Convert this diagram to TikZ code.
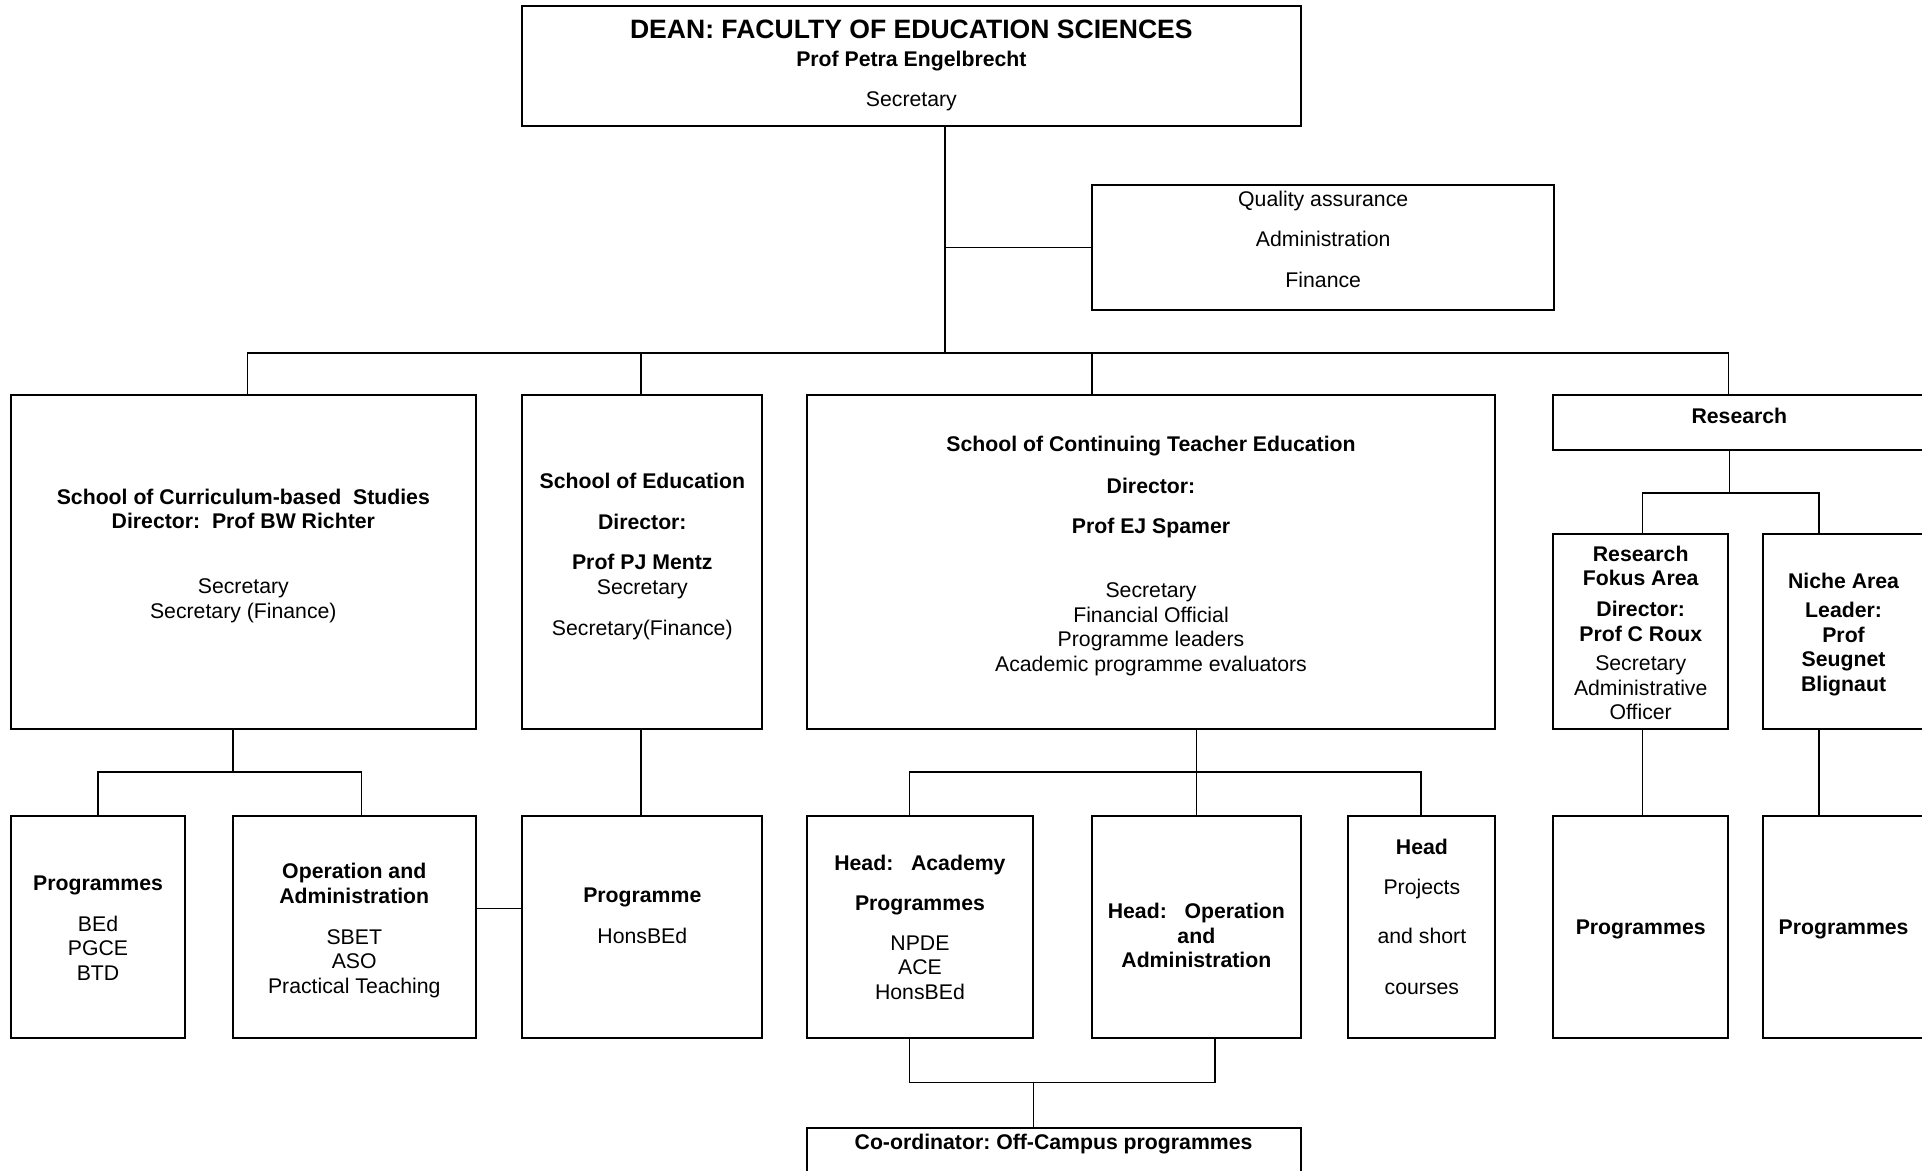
\documentclass[tikz,border=0pt]{standalone}
\usepackage{fontspec}
\setmainfont{Liberation Sans}
\usetikzlibrary{fit}

\tikzset{
  box/.style={draw, line width=1pt, inner sep=0pt},
  lbl/.style={align=center, inner sep=0pt},
  conn/.style={line width=0.8pt}
}

\begin{document}
\frenchspacing
\begin{tikzpicture}[x=0.6pt, y=-0.6pt, font=\fontsize{10.4}{12}\selectfont]
\useasboundingbox (0,0) rectangle (1568,955);

\node[box, fit={(426,5) (1061,103)}, label={[lbl,yshift=0.4pt]center:{\textbf{\fontsize{13}{15}\selectfont DEAN: FACULTY OF EDUCATION SCIENCES}\\[1.9pt]\textbf{Prof Petra Engelbrecht}\\[7.6pt]Secretary}}] (dean) {};
\node[box, fit={(891,151) (1268,253)}, label={[lbl,yshift=4.2pt]center:{Quality assurance\\[7.8pt]Administration\\[7.8pt]Finance}}] (qa) {};

\node[box, fit={(9,322) (388,595)}, label={[lbl,yshift=3.1pt]center:{\textbf{School of Curriculum-based\ \ Studies}\\\textbf{Director:\ \ Prof BW Richter}\\[19.7pt]Secretary\\Secretary (Finance)}}] (curr) {};
\node[box, fit={(426,322) (622,595)}, label={[lbl,yshift=2.7pt]center:{\textbf{School of Education}\\[8pt]\textbf{Director:}\\[8pt]\textbf{Prof PJ Mentz}\\Secretary\\[8.2pt]Secretary(Finance)}}] (edu) {};
\node[box, fit={(658,322) (1220,595)}, label={[lbl,yshift=3pt]center:{\textbf{School of Continuing Teacher Education}\\[8.6pt]\textbf{Director:}\\[7.4pt]\textbf{Prof EJ Spamer}\\[19.8pt]Secretary\\Financial Official\\Programme leaders\\Academic programme evaluators}}] (cont) {};
\node[box, fit={(1267,322) (1571,367)}, label={[lbl,yshift=3.3pt]center:{\textbf{Research}}}] (res) {};

\node[box, fit={(1267,436) (1410,595)}, label={[lbl,yshift=-0.5pt]center:{\textbf{Research}\\\textbf{Fokus Area}\\[3.2pt]\textbf{Director:}\\\textbf{Prof C Roux}\\[2.6pt]Secretary\\Administrative\\Officer}}] (fokus) {};
\node[box, fit={(1438,436) (1570,595)}, label={[lbl,yshift=-1.1pt]center:{\textbf{Niche Area}\\[2.4pt]\textbf{Leader:}\\\textbf{Prof}\\\textbf{Seugnet}\\\textbf{Blignaut}}}] (niche) {};

\node[box, fit={(9,666) (151,847)}, label={[lbl,yshift=-0.3pt]center:{\textbf{Programmes}\\[7.9pt]BEd\\PGCE\\BTD}}] (lprog) {};
\node[box, fit={(190,666) (388,847)}, label={[lbl,yshift=-1.5pt]center:{\textbf{Operation and}\\\textbf{Administration}\\[8pt]SBET\\ASO\\Practical Teaching}}] (opadm) {};
\node[box, fit={(426,666) (622,847)}, label={[lbl,yshift=5.6pt]center:{\textbf{Programme}\\[7.7pt]HonsBEd}}] (prog) {};
\node[box, fit={(658,666) (843,847)}, label={[lbl]center:{\textbf{Head:\ \ \ Academy}\\[7.6pt]\textbf{Programmes}\\[7.6pt]NPDE\\ACE\\HonsBEd}}] (acad) {};
\node[box, fit={(891,666) (1061,847)}, label={[lbl,yshift=-4.1pt]center:{\textbf{Head:\ \ \ Operation}\\\textbf{and}\\\textbf{Administration}}}] (oper) {};
\node[box, fit={(1100,666) (1220,847)}, label={[lbl,yshift=5.2pt]center:{\textbf{Head}\\[7.9pt]Projects\\[11.8pt]and short\\[12.8pt]courses}}] (proj) {};
\node[box, fit={(1267,666) (1410,847)}, label={[lbl,yshift=-1pt]center:{\textbf{Programmes}}}] (rfprog) {};
\node[box, fit={(1438,666) (1570,847)}, label={[lbl,yshift=-1pt]center:{\textbf{Programmes}}}] (nprog) {};

\node[box, fit={(658,920) (1061,990)}, label={[lbl,anchor=north,yshift=-3.6pt]north:{\textbf{Co-ordinator: Off-Campus programmes}}}] (coord) {};

\coordinate (j0) at (771,288);
\coordinate (b1) at (202,288);
\coordinate (b2) at (523,288);
\coordinate (b3) at (891,288);
\coordinate (b4) at (1410,288);
\draw[conn] (dean.south -| j0) -- (j0);
\draw[conn] (qa.west) -- (qa.west -| j0);
\draw[conn] (curr.north -| b1) -- (b1) -- (b4) -- (res.north -| b4);
\draw[conn] (b2) -- (edu.north -| b2);
\draw[conn] (b3) -- (cont.north -| b3);

\coordinate (r0) at (1411,402);
\coordinate (r1) at (1340,402);
\coordinate (r2) at (1484,402);
\draw[conn] (res.south -| r0) -- (r0);
\draw[conn] (fokus.north -| r1) -- (r1) -- (r2) -- (niche.north -| r2);
\draw[conn] (fokus.south -| r1) -- (rfprog.north -| r1);
\draw[conn] (niche.south -| r2) -- (nprog.north -| r2);

\coordinate (c0) at (190,630);
\coordinate (c1) at (80,630);
\coordinate (c2) at (295,630);
\draw[conn] (curr.south -| c0) -- (c0);
\draw[conn] (lprog.north -| c1) -- (c1) -- (c2) -- (opadm.north -| c2);
\coordinate (h0) at (400,741);
\draw[conn] (opadm.east |- h0) -- (prog.west |- h0);
\draw[conn] (edu.south -| b2) -- (prog.north -| b2);

\coordinate (d0) at (976,630);
\coordinate (d1) at (742,630);
\coordinate (d2) at (1159,630);
\draw[conn] (cont.south -| d0) -- (oper.north -| d0);
\draw[conn] (acad.north -| d1) -- (d1) -- (d2) -- (proj.north -| d2);

\coordinate (e0) at (843,883);
\coordinate (e1) at (742,883);
\coordinate (e2) at (991,883);
\draw[conn] (acad.south -| e1) -- (e1) -- (e2) -- (oper.south -| e2);
\draw[conn] (e0) -- (coord.north -| e0);
\end{tikzpicture}
\end{document}
